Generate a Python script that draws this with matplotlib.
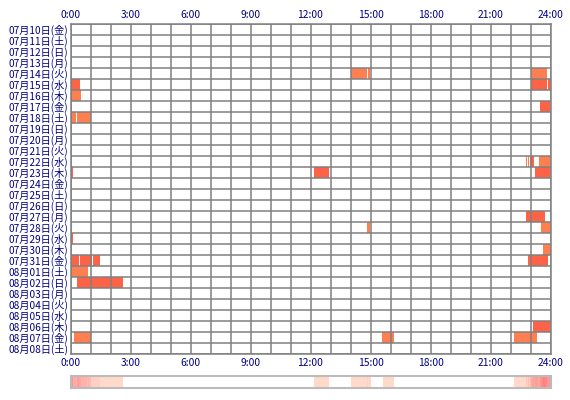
import matplotlib.pyplot as plt
import numpy as np

plt.rcParams['font.family'] = ['Noto Sans CJK JP', 'DejaVu Sans']

# row labels (one row per day)
days = ["07月10日(金)", "07月11日(土)", "07月12日(日)", "07月13日(月)", "07月14日(火)",
        "07月15日(水)", "07月16日(木)", "07月17日(金)", "07月18日(土)", "07月19日(日)",
        "07月20日(月)", "07月21日(火)", "07月22日(水)", "07月23日(木)", "07月24日(金)",
        "07月25日(土)", "07月26日(日)", "07月27日(月)", "07月28日(火)", "07月29日(水)",
        "07月30日(木)", "07月31日(金)", "08月01日(土)", "08月02日(日)", "08月03日(月)",
        "08月04日(火)", "08月05日(水)", "08月06日(木)", "08月07日(金)", "08月08日(土)"]
hour_labels = ["0:00", "3:00", "6:00", "9:00", "12:00", "15:00", "18:00", "21:00", "24:00"]

# sessions: day row, start, end, kind (T = tomato, C = coral)
sess_row = [4, 4, 4,
            5, 5, 5,
            6,
            7,
            8, 8,
            12, 12, 12, 12,
            13, 13, 13,
            17,
            18, 18,
            19,
            20,
            21, 21, 21, 21, 21, 21,
            22,
            23, 23,
            27,
            28, 28, 28, 28]
sess_start = ["14:00", "14:53", "23:00",
              "0:00", "23:00", "23:52",
              "0:00",
              "23:28",
              "0:00", "0:19",
              "22:46", "22:52", "22:57", "23:26",
              "0:00", "12:10", "23:13",
              "22:45",
              "14:49", "23:32",
              "0:00",
              "23:36",
              "0:00", "0:28", "1:07", "22:52", "22:56", "23:54",
              "0:00",
              "0:19", "0:50",
              "23:07",
              "0:00", "0:10", "15:35", "22:10"]
sess_end = ["14:50", "14:59", "23:48",
            "0:28", "23:50", "23:58",
            "0:31",
            "23:58",
            "0:16", "1:01",
            "22:49", "22:55", "23:10", "23:58",
            "0:06", "12:55", "23:58",
            "23:42",
            "14:58", "23:58",
            "0:06",
            "23:58",
            "0:25", "1:05", "1:28", "22:55", "23:52", "23:56",
            "0:53",
            "0:48", "2:37",
            "23:58",
            "0:05", "1:01", "16:10", "23:20"]
sess_kind = ["C", "C", "C",
             "T", "T", "T",
             "C",
             "T",
             "C", "C",
             "C", "C", "T", "C",
             "T", "T", "T",
             "T",
             "C", "C",
             "T",
             "C",
             "T", "T", "T", "T", "T", "T",
             "C",
             "T", "T",
             "T",
             "C", "C", "C", "C"]


def to_min(s):
    h, m = s.split(":")
    return int(h) * 60 + int(m)


starts = np.array([to_min(s) for s in sess_start])
ends = np.array([to_min(s) for s in sess_end])
kind_color = {"T": "#ff6347", "C": "#ff7f50"}

W, H = 570, 400
fig = plt.figure(figsize=(W / 100, H / 100), dpi=100)
ax = fig.add_axes([70.5 / W, 46 / H, 480 / W, 330 / H])

ax.barh(np.array(sess_row) + 0.5, ends - starts, left=starts, height=1.0,
        color=[kind_color[k] for k in sess_kind], zorder=1, linewidth=0)

ax.set_xlim(0, 1440)
ax.set_ylim(len(days), 0)

ax.set_xticks(np.arange(0, 1441, 180))
ax.set_xticklabels(hour_labels)
ax.set_xticks(np.arange(0, 1441, 60), minor=True)
ax.set_yticks(np.arange(len(days)) + 0.5)
ax.set_yticklabels(days)
ax.set_yticks(np.arange(0, len(days) + 1), minor=True)
ax.xaxis.grid(True, which='both', color='#808080', lw=1.1, zorder=3)
ax.yaxis.grid(True, which='minor', color='#808080', lw=1.1, zorder=3)
ax.yaxis.grid(False, which='major')
ax.set_axisbelow(False)
ax.tick_params(which='both', length=0)
ax.tick_params(axis='x', labeltop=True, labelbottom=True, pad=3, labelsize=7.4, labelcolor='#000080')
ax.tick_params(axis='y', pad=1.5, labelsize=7.3, labelcolor='#000080')
for sp in ax.spines.values():
    sp.set_color('#808080')
    sp.set_linewidth(1.1)

# usage strip: number of sessions active in each minute
counts = np.zeros(1440)
for s, e in zip(starts, ends):
    counts[s:e] += 1
frac = counts / counts.max()
lo = np.array([255, 228, 212]) / 255.0
hi = np.array([255, 128, 128]) / 255.0
rgb = lo[None, :] + (hi - lo)[None, :] * frac[:, None]
rgb[counts == 0] = 1.0

ax2 = fig.add_axes([70.5 / W, 12 / H, 480 / W, 12 / H])
ax2.imshow(rgb[None, :, :], aspect='auto', extent=[0, 1440, 0, 1], interpolation='nearest')
ax2.set_xticks([])
ax2.set_yticks([])
for sp in ax2.spines.values():
    sp.set_color('#bbbbbb')
    sp.set_linewidth(1.5)

fig.savefig("out.png", dpi=100)
